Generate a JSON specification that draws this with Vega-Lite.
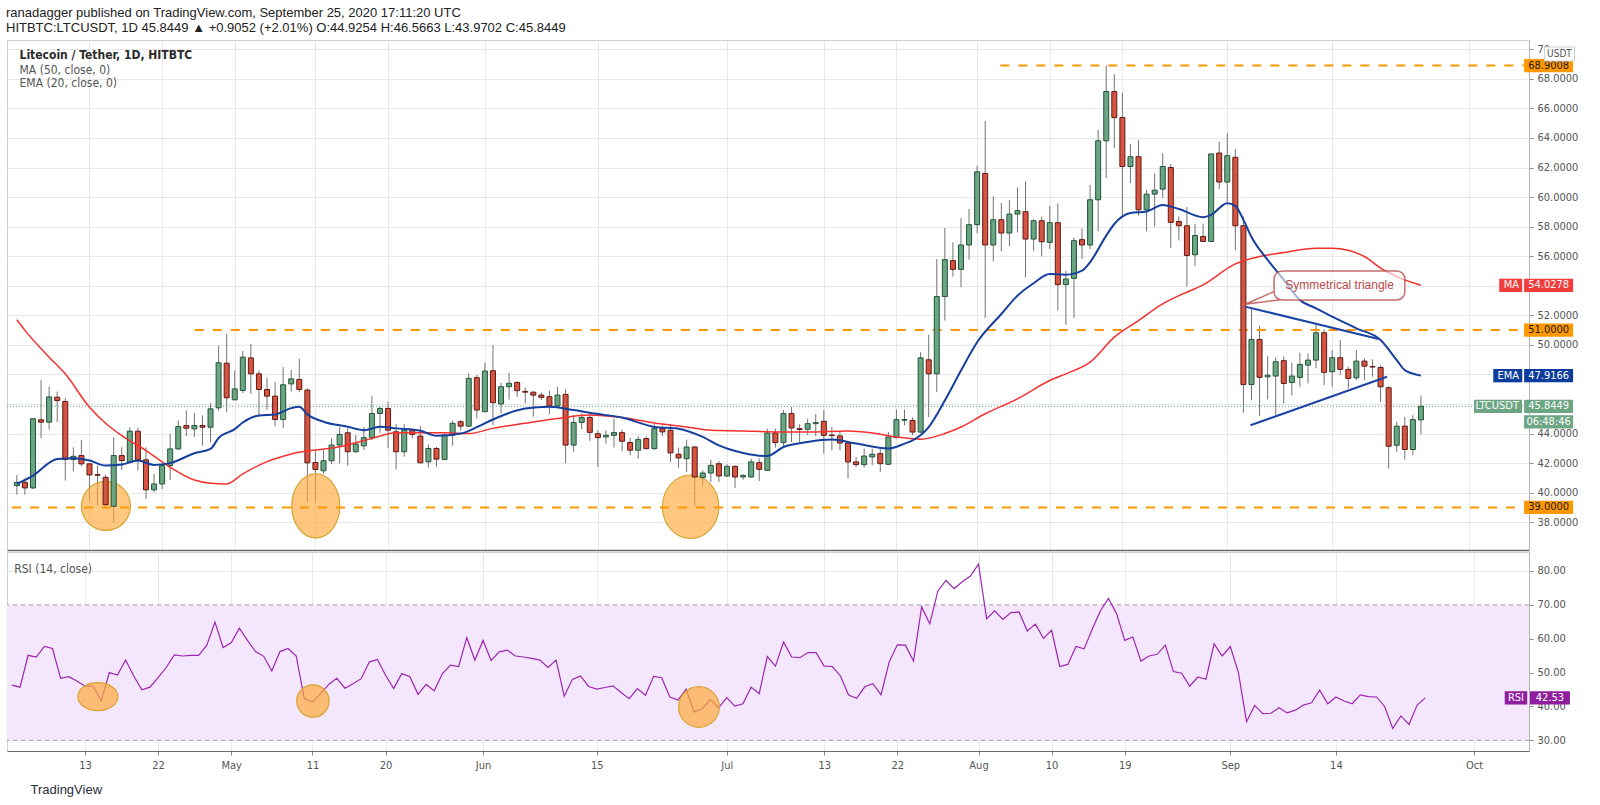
{
  "$schema": "https://vega.github.io/schema/vega-lite/v6.json",
  "background": "white",
  "padding": {"left": 6, "top": 6, "right": 0, "bottom": 0},
  "title": {
    "text": "ranadagger published on TradingView.com, September 25, 2020 17:11:20 UTC",
    "subtitle": "HITBTC:LTCUSDT, 1D  45.8449 ▲ +0.9052 (+2.01%) O:44.9254 H:46.5663 L:43.9702 C:45.8449",
    "anchor": "start",
    "frame": "bounds",
    "font": "Liberation Sans",
    "fontSize": 13,
    "fontWeight": "normal",
    "color": "#222222",
    "subtitleFont": "Liberation Sans",
    "subtitleFontSize": 13,
    "subtitleColor": "#222222",
    "subtitlePadding": 2,
    "offset": 5
  },
  "spacing": 0,
  "datasets": {
    "candles": [
      {"date":"2020-04-04","open":40.48,"high":41.2,"low":39.87,"close":40.7},
      {"date":"2020-04-05","open":40.7,"high":40.93,"low":39.87,"close":40.32},
      {"date":"2020-04-06","open":40.32,"high":45.05,"low":40.25,"close":45.0},
      {"date":"2020-04-07","open":44.93,"high":47.63,"low":43.68,"close":44.77},
      {"date":"2020-04-08","open":44.77,"high":47.18,"low":44.27,"close":46.48},
      {"date":"2020-04-09","open":46.46,"high":46.84,"low":44.77,"close":46.23},
      {"date":"2020-04-10","open":46.17,"high":46.39,"low":40.82,"close":42.24},
      {"date":"2020-04-11","open":42.24,"high":43.07,"low":41.43,"close":42.46},
      {"date":"2020-04-12","open":42.51,"high":43.57,"low":41.79,"close":41.95},
      {"date":"2020-04-13","open":41.95,"high":41.98,"low":39.46,"close":41.2},
      {"date":"2020-04-14","open":41.22,"high":41.83,"low":39.12,"close":41.18},
      {"date":"2020-04-15","open":41.04,"high":41.22,"low":39.01,"close":39.19},
      {"date":"2020-04-16","open":39.08,"high":43.75,"low":37.95,"close":42.51},
      {"date":"2020-04-17","open":42.51,"high":43.07,"low":41.54,"close":42.17},
      {"date":"2020-04-18","open":42.06,"high":44.43,"low":42.0,"close":44.16},
      {"date":"2020-04-19","open":44.16,"high":44.4,"low":41.49,"close":42.22},
      {"date":"2020-04-20","open":42.22,"high":43.07,"low":39.58,"close":40.19},
      {"date":"2020-04-21","open":40.19,"high":41.27,"low":40.03,"close":40.59},
      {"date":"2020-04-22","open":40.59,"high":41.95,"low":40.25,"close":41.83},
      {"date":"2020-04-23","open":41.83,"high":43.98,"low":40.86,"close":42.96},
      {"date":"2020-04-24","open":42.96,"high":44.88,"low":42.9,"close":44.47},
      {"date":"2020-04-25","open":44.54,"high":45.56,"low":43.82,"close":44.36},
      {"date":"2020-04-26","open":44.32,"high":45.38,"low":43.75,"close":44.54},
      {"date":"2020-04-27","open":44.54,"high":45.22,"low":43.19,"close":44.43},
      {"date":"2020-04-28","open":44.43,"high":46.05,"low":43.41,"close":45.67},
      {"date":"2020-04-29","open":45.74,"high":49.96,"low":45.56,"close":48.79},
      {"date":"2020-04-30","open":48.76,"high":50.75,"low":45.44,"close":46.42},
      {"date":"2020-05-01","open":46.28,"high":48.27,"low":46.28,"close":47.02},
      {"date":"2020-05-02","open":46.91,"high":49.58,"low":46.73,"close":49.17},
      {"date":"2020-05-03","open":49.12,"high":50.07,"low":46.69,"close":48.04},
      {"date":"2020-05-04","open":48.04,"high":48.27,"low":45.15,"close":46.98},
      {"date":"2020-05-05","open":46.98,"high":47.77,"low":45.6,"close":46.53},
      {"date":"2020-05-06","open":46.53,"high":47.48,"low":44.5,"close":44.95},
      {"date":"2020-05-07","open":44.95,"high":48.49,"low":44.36,"close":47.3},
      {"date":"2020-05-08","open":47.36,"high":48.3,"low":46.84,"close":47.7},
      {"date":"2020-05-09","open":47.66,"high":49.06,"low":46.8,"close":46.98},
      {"date":"2020-05-10","open":46.94,"high":47.06,"low":39.38,"close":42.02},
      {"date":"2020-05-11","open":42.04,"high":42.84,"low":39.31,"close":41.57},
      {"date":"2020-05-12","open":41.48,"high":42.88,"low":41.3,"close":42.16},
      {"date":"2020-05-13","open":42.16,"high":43.67,"low":41.93,"close":43.22},
      {"date":"2020-05-14","open":43.22,"high":44.42,"low":41.98,"close":43.94},
      {"date":"2020-05-15","open":44.05,"high":44.35,"low":41.82,"close":42.77},
      {"date":"2020-05-16","open":42.77,"high":43.9,"low":42.7,"close":43.29},
      {"date":"2020-05-17","open":43.17,"high":44.46,"low":42.88,"close":43.72},
      {"date":"2020-05-18","open":43.72,"high":46.56,"low":43.56,"close":45.36},
      {"date":"2020-05-19","open":45.36,"high":45.81,"low":44.05,"close":45.7},
      {"date":"2020-05-20","open":45.7,"high":46.15,"low":43.0,"close":44.23},
      {"date":"2020-05-21","open":44.12,"high":44.64,"low":41.57,"close":42.77},
      {"date":"2020-05-22","open":42.77,"high":44.64,"low":42.43,"close":44.23},
      {"date":"2020-05-23","open":44.23,"high":44.35,"low":43.67,"close":43.94},
      {"date":"2020-05-24","open":43.83,"high":44.5,"low":42.0,"close":42.02},
      {"date":"2020-05-25","open":42.09,"high":43.26,"low":41.71,"close":42.99},
      {"date":"2020-05-26","open":42.99,"high":43.1,"low":41.75,"close":42.27},
      {"date":"2020-05-27","open":42.25,"high":44.0,"low":42.2,"close":43.9},
      {"date":"2020-05-28","open":43.9,"high":44.87,"low":43.17,"close":44.69},
      {"date":"2020-05-29","open":44.8,"high":44.91,"low":44.19,"close":44.5},
      {"date":"2020-05-30","open":44.5,"high":48.07,"low":44.46,"close":47.73},
      {"date":"2020-05-31","open":47.78,"high":47.96,"low":45.02,"close":45.59},
      {"date":"2020-06-01","open":45.48,"high":48.79,"low":45.48,"close":48.23},
      {"date":"2020-06-02","open":48.25,"high":49.99,"low":44.57,"close":46.09},
      {"date":"2020-06-03","open":46.0,"high":47.44,"low":45.36,"close":47.17},
      {"date":"2020-06-04","open":47.17,"high":48.12,"low":46.31,"close":47.4},
      {"date":"2020-06-05","open":47.46,"high":47.53,"low":46.49,"close":46.9},
      {"date":"2020-06-06","open":46.85,"high":47.12,"low":46.04,"close":46.8},
      {"date":"2020-06-07","open":46.8,"high":46.85,"low":45.14,"close":46.6},
      {"date":"2020-06-08","open":46.6,"high":46.76,"low":46.27,"close":46.45},
      {"date":"2020-06-09","open":46.49,"high":46.9,"low":45.32,"close":45.86},
      {"date":"2020-06-10","open":45.86,"high":47.17,"low":45.8,"close":46.6},
      {"date":"2020-06-11","open":46.65,"high":46.99,"low":41.98,"close":43.22},
      {"date":"2020-06-12","open":43.22,"high":45.25,"low":42.77,"close":44.75},
      {"date":"2020-06-13","open":44.75,"high":45.36,"low":44.3,"close":45.09},
      {"date":"2020-06-14","open":45.09,"high":45.36,"low":43.51,"close":44.08},
      {"date":"2020-06-15","open":43.99,"high":44.22,"low":41.74,"close":43.72},
      {"date":"2020-06-16","open":43.77,"high":44.22,"low":43.32,"close":43.88},
      {"date":"2020-06-17","open":43.88,"high":45.01,"low":43.05,"close":44.06},
      {"date":"2020-06-18","open":44.06,"high":44.27,"low":42.82,"close":43.48},
      {"date":"2020-06-19","open":43.39,"high":43.72,"low":42.53,"close":42.87},
      {"date":"2020-06-20","open":42.87,"high":43.81,"low":42.3,"close":43.59},
      {"date":"2020-06-21","open":43.66,"high":43.81,"low":42.93,"close":42.98},
      {"date":"2020-06-22","open":42.98,"high":44.63,"low":42.9,"close":44.33},
      {"date":"2020-06-23","open":44.33,"high":44.56,"low":43.81,"close":44.11},
      {"date":"2020-06-24","open":44.22,"high":44.63,"low":42.08,"close":42.69},
      {"date":"2020-06-25","open":42.6,"high":43.05,"low":41.69,"close":42.35},
      {"date":"2020-06-26","open":42.3,"high":43.59,"low":41.4,"close":43.09},
      {"date":"2020-06-27","open":43.09,"high":43.14,"low":39.14,"close":41.06},
      {"date":"2020-06-28","open":41.02,"high":41.51,"low":40.43,"close":41.33},
      {"date":"2020-06-29","open":41.33,"high":42.23,"low":40.72,"close":41.85},
      {"date":"2020-06-30","open":41.96,"high":42.14,"low":40.72,"close":41.13},
      {"date":"2020-07-01","open":41.13,"high":41.92,"low":41.06,"close":41.78},
      {"date":"2020-07-02","open":41.78,"high":41.85,"low":40.32,"close":41.06},
      {"date":"2020-07-03","open":41.06,"high":41.24,"low":40.88,"close":41.17},
      {"date":"2020-07-04","open":41.06,"high":42.3,"low":41.0,"close":42.08},
      {"date":"2020-07-05","open":42.03,"high":42.3,"low":40.79,"close":41.58},
      {"date":"2020-07-06","open":41.51,"high":44.33,"low":41.5,"close":44.04},
      {"date":"2020-07-07","open":44.04,"high":44.33,"low":43.05,"close":43.39},
      {"date":"2020-07-08","open":43.39,"high":45.58,"low":43.09,"close":45.35},
      {"date":"2020-07-09","open":45.35,"high":45.8,"low":43.43,"close":44.38},
      {"date":"2020-07-10","open":44.33,"high":44.63,"low":43.43,"close":44.27},
      {"date":"2020-07-11","open":44.29,"high":45.01,"low":43.88,"close":44.67},
      {"date":"2020-07-12","open":44.67,"high":45.31,"low":43.81,"close":44.74},
      {"date":"2020-07-13","open":44.83,"high":45.58,"low":42.64,"close":43.88},
      {"date":"2020-07-14","open":43.9,"high":44.45,"low":42.87,"close":43.86},
      {"date":"2020-07-15","open":43.84,"high":44.1,"low":42.87,"close":43.36},
      {"date":"2020-07-16","open":43.36,"high":43.36,"low":40.95,"close":42.08},
      {"date":"2020-07-17","open":42.08,"high":42.42,"low":41.74,"close":41.9},
      {"date":"2020-07-18","open":41.9,"high":42.98,"low":41.69,"close":42.48},
      {"date":"2020-07-19","open":42.42,"high":42.98,"low":41.85,"close":42.6},
      {"date":"2020-07-20","open":42.64,"high":42.98,"low":41.4,"close":41.96},
      {"date":"2020-07-21","open":41.92,"high":44.11,"low":41.9,"close":43.77},
      {"date":"2020-07-22","open":43.72,"high":45.62,"low":43.7,"close":44.94},
      {"date":"2020-07-23","open":44.9,"high":45.62,"low":44.56,"close":44.95},
      {"date":"2020-07-24","open":44.89,"high":45.1,"low":43.87,"close":44.1},
      {"date":"2020-07-25","open":44.1,"high":49.5,"low":44.05,"close":49.12},
      {"date":"2020-07-26","open":48.99,"high":50.7,"low":45.11,"close":48.04},
      {"date":"2020-07-27","open":48.04,"high":55.81,"low":46.8,"close":53.27},
      {"date":"2020-07-28","open":53.27,"high":57.91,"low":51.64,"close":55.77},
      {"date":"2020-07-29","open":55.7,"high":56.94,"low":54.62,"close":55.11},
      {"date":"2020-07-30","open":55.11,"high":58.58,"low":53.9,"close":56.76},
      {"date":"2020-07-31","open":56.76,"high":59.19,"low":55.77,"close":58.13},
      {"date":"2020-08-01","open":58.13,"high":62.12,"low":57.55,"close":61.71},
      {"date":"2020-08-02","open":61.6,"high":65.16,"low":51.82,"close":56.76},
      {"date":"2020-08-03","open":56.76,"high":60.05,"low":55.65,"close":58.47},
      {"date":"2020-08-04","open":58.47,"high":59.6,"low":56.33,"close":57.57},
      {"date":"2020-08-05","open":57.57,"high":59.8,"low":56.67,"close":58.85},
      {"date":"2020-08-06","open":58.85,"high":60.65,"low":57.61,"close":59.08},
      {"date":"2020-08-07","open":59.01,"high":61.06,"low":54.57,"close":57.16},
      {"date":"2020-08-08","open":57.16,"high":58.51,"low":56.37,"close":58.4},
      {"date":"2020-08-09","open":58.4,"high":58.67,"low":55.99,"close":56.98},
      {"date":"2020-08-10","open":56.94,"high":59.41,"low":56.49,"close":58.27},
      {"date":"2020-08-11","open":58.27,"high":59.57,"low":52.32,"close":54.08},
      {"date":"2020-08-12","open":54.08,"high":55.02,"low":51.35,"close":54.46},
      {"date":"2020-08-13","open":54.5,"high":57.27,"low":51.82,"close":57.05},
      {"date":"2020-08-14","open":57.12,"high":57.88,"low":55.81,"close":56.76},
      {"date":"2020-08-15","open":56.76,"high":60.83,"low":56.49,"close":59.82},
      {"date":"2020-08-16","open":59.82,"high":64.55,"low":57.68,"close":63.81},
      {"date":"2020-08-17","open":63.81,"high":68.9,"low":61.28,"close":67.14},
      {"date":"2020-08-18","open":67.14,"high":68.31,"low":63.31,"close":65.38},
      {"date":"2020-08-19","open":65.38,"high":67.07,"low":58.74,"close":62.07},
      {"date":"2020-08-20","open":62.07,"high":63.58,"low":60.95,"close":62.73},
      {"date":"2020-08-21","open":62.73,"high":63.85,"low":58.74,"close":59.14},
      {"date":"2020-08-22","open":59.14,"high":60.5,"low":57.68,"close":60.2},
      {"date":"2020-08-23","open":60.2,"high":61.6,"low":58.0,"close":60.47},
      {"date":"2020-08-24","open":60.54,"high":62.97,"low":59.93,"close":62.07},
      {"date":"2020-08-25","open":62.0,"high":62.23,"low":56.55,"close":58.29},
      {"date":"2020-08-26","open":58.35,"high":58.69,"low":57.06,"close":58.06},
      {"date":"2020-08-27","open":58.06,"high":59.32,"low":53.94,"close":56.05},
      {"date":"2020-08-28","open":56.1,"high":58.19,"low":55.34,"close":57.4},
      {"date":"2020-08-29","open":57.33,"high":58.19,"low":56.99,"close":57.0},
      {"date":"2020-08-30","open":57.0,"high":62.95,"low":56.99,"close":62.92},
      {"date":"2020-08-31","open":62.98,"high":63.73,"low":60.54,"close":61.02},
      {"date":"2020-09-01","open":61.02,"high":64.34,"low":59.64,"close":62.8},
      {"date":"2020-09-02","open":62.69,"high":63.25,"low":56.43,"close":58.06},
      {"date":"2020-09-03","open":58.06,"high":58.69,"low":45.4,"close":47.32},
      {"date":"2020-09-04","open":47.32,"high":52.47,"low":46.26,"close":50.37},
      {"date":"2020-09-05","open":50.37,"high":51.3,"low":45.18,"close":47.8},
      {"date":"2020-09-06","open":47.84,"high":49.24,"low":46.3,"close":47.95},
      {"date":"2020-09-07","open":47.89,"high":49.15,"low":45.24,"close":48.86},
      {"date":"2020-09-08","open":48.93,"high":49.2,"low":46.03,"close":47.39},
      {"date":"2020-09-09","open":47.46,"high":48.79,"low":46.6,"close":47.89},
      {"date":"2020-09-10","open":47.8,"high":49.47,"low":47.16,"close":48.68},
      {"date":"2020-09-11","open":48.63,"high":49.42,"low":47.39,"close":48.97},
      {"date":"2020-09-12","open":48.97,"high":51.34,"low":48.41,"close":50.82},
      {"date":"2020-09-13","open":50.82,"high":51.05,"low":47.28,"close":48.14},
      {"date":"2020-09-14","open":48.18,"high":49.65,"low":47.16,"close":49.13},
      {"date":"2020-09-15","open":49.13,"high":50.33,"low":47.95,"close":48.34},
      {"date":"2020-09-16","open":48.34,"high":48.52,"low":47.05,"close":47.73},
      {"date":"2020-09-17","open":47.77,"high":49.65,"low":47.62,"close":48.9},
      {"date":"2020-09-18","open":48.9,"high":49.08,"low":47.62,"close":48.56},
      {"date":"2020-09-19","open":48.54,"high":49.02,"low":47.84,"close":48.5},
      {"date":"2020-09-20","open":48.47,"high":48.63,"low":46.15,"close":47.16},
      {"date":"2020-09-21","open":47.1,"high":47.2,"low":41.63,"close":43.14},
      {"date":"2020-09-22","open":43.21,"high":44.8,"low":42.76,"close":44.5},
      {"date":"2020-09-23","open":44.5,"high":45.13,"low":42.24,"close":42.92},
      {"date":"2020-09-24","open":42.92,"high":45.24,"low":42.53,"close":44.94},
      {"date":"2020-09-25","open":44.9254,"high":46.5663,"low":43.9702,"close":45.8449}
    ],
    "ma": [
      {"date":"2020-04-04","value":51.7},{"date":"2020-04-05","value":50.98},{"date":"2020-04-08","value":49.17},
      {"date":"2020-04-10","value":48.04},{"date":"2020-04-13","value":45.78},{"date":"2020-04-15","value":44.7},
      {"date":"2020-04-17","value":43.86},{"date":"2020-04-20","value":42.85},{"date":"2020-04-23","value":41.72},
      {"date":"2020-04-26","value":40.86},{"date":"2020-04-28","value":40.64},{"date":"2020-04-30","value":40.59},
      {"date":"2020-05-02","value":41.27},{"date":"2020-05-05","value":42.1},{"date":"2020-05-08","value":42.62},
      {"date":"2020-05-14","value":43.11},{"date":"2020-05-18","value":43.67},{"date":"2020-05-21","value":44.05},
      {"date":"2020-05-27","value":44.05},{"date":"2020-05-30","value":44.0},{"date":"2020-06-02","value":44.35},
      {"date":"2020-06-06","value":44.69},{"date":"2020-06-10","value":45.02},{"date":"2020-06-14","value":45.25},
      {"date":"2020-06-18","value":45.08},{"date":"2020-06-22","value":44.72},{"date":"2020-06-26","value":44.45},
      {"date":"2020-06-29","value":44.22},{"date":"2020-07-03","value":44.18},{"date":"2020-07-07","value":44.11},
      {"date":"2020-07-11","value":44.11},{"date":"2020-07-16","value":44.18},{"date":"2020-07-19","value":44.04},
      {"date":"2020-07-22","value":43.77},{"date":"2020-07-25","value":43.62},{"date":"2020-07-28","value":44.0},
      {"date":"2020-07-30","value":44.44},{"date":"2020-08-02","value":45.34},{"date":"2020-08-06","value":46.35},
      {"date":"2020-08-10","value":47.59},{"date":"2020-08-12","value":48.04},{"date":"2020-08-15","value":48.83},
      {"date":"2020-08-18","value":50.52},{"date":"2020-08-21","value":51.64},{"date":"2020-08-24","value":52.77},
      {"date":"2020-08-26","value":53.33},{"date":"2020-08-29","value":54.06},{"date":"2020-09-02","value":55.48},
      {"date":"2020-09-05","value":55.98},{"date":"2020-09-08","value":56.25},{"date":"2020-09-12","value":56.54},
      {"date":"2020-09-14","value":56.54},{"date":"2020-09-18","value":55.98},{"date":"2020-09-20","value":55.19},
      {"date":"2020-09-22","value":54.62},{"date":"2020-09-25","value":54.03}
    ],
    "ema": [
      {"date":"2020-04-04","value":40.6},{"date":"2020-04-06","value":41.16},{"date":"2020-04-09","value":42.28},
      {"date":"2020-04-11","value":42.33},{"date":"2020-04-13","value":42.17},{"date":"2020-04-15","value":41.83},
      {"date":"2020-04-17","value":41.9},{"date":"2020-04-19","value":42.17},{"date":"2020-04-21","value":41.88},
      {"date":"2020-04-23","value":42.0},{"date":"2020-04-26","value":42.67},{"date":"2020-04-28","value":42.96},
      {"date":"2020-04-29","value":43.7},{"date":"2020-05-01","value":44.3},{"date":"2020-05-02","value":44.75},
      {"date":"2020-05-04","value":45.22},{"date":"2020-05-06","value":45.29},{"date":"2020-05-08","value":45.72},
      {"date":"2020-05-09","value":45.81},{"date":"2020-05-10","value":45.3},{"date":"2020-05-12","value":44.8},
      {"date":"2020-05-15","value":44.46},{"date":"2020-05-17","value":44.23},{"date":"2020-05-19","value":44.46},
      {"date":"2020-05-21","value":44.35},{"date":"2020-05-24","value":44.19},{"date":"2020-05-26","value":43.85},
      {"date":"2020-05-29","value":44.0},{"date":"2020-05-31","value":44.43},{"date":"2020-06-02","value":44.95},
      {"date":"2020-06-06","value":45.7},{"date":"2020-06-09","value":45.81},{"date":"2020-06-12","value":45.59},
      {"date":"2020-06-14","value":45.4},{"date":"2020-06-18","value":45.08},{"date":"2020-06-22","value":44.45},
      {"date":"2020-06-25","value":44.33},{"date":"2020-06-28","value":43.77},{"date":"2020-06-30","value":43.2},
      {"date":"2020-07-03","value":42.69},{"date":"2020-07-06","value":42.48},{"date":"2020-07-08","value":43.09},
      {"date":"2020-07-11","value":43.43},{"date":"2020-07-14","value":43.59},{"date":"2020-07-17","value":43.32},
      {"date":"2020-07-21","value":42.98},{"date":"2020-07-23","value":43.32},{"date":"2020-07-24","value":43.54},
      {"date":"2020-07-26","value":44.44},{"date":"2020-07-28","value":46.24},{"date":"2020-07-30","value":48.27},
      {"date":"2020-08-01","value":50.18},{"date":"2020-08-04","value":52.09},{"date":"2020-08-06","value":53.33},
      {"date":"2020-08-08","value":54.17},{"date":"2020-08-10","value":54.8},{"date":"2020-08-12","value":54.75},
      {"date":"2020-08-14","value":55.02},{"date":"2020-08-15","value":55.6},{"date":"2020-08-17","value":57.39},
      {"date":"2020-08-18","value":58.18},{"date":"2020-08-20","value":58.92},{"date":"2020-08-22","value":59.03},
      {"date":"2020-08-24","value":59.46},{"date":"2020-08-26","value":59.19},{"date":"2020-08-29","value":58.64},
      {"date":"2020-08-30","value":58.8},{"date":"2020-09-01","value":59.59},{"date":"2020-09-02","value":59.41},
      {"date":"2020-09-03","value":58.46},{"date":"2020-09-04","value":57.3},{"date":"2020-09-06","value":55.75},
      {"date":"2020-09-08","value":54.4},{"date":"2020-09-10","value":53.04},{"date":"2020-09-12","value":52.47},
      {"date":"2020-09-14","value":51.91},{"date":"2020-09-17","value":51.12},{"date":"2020-09-20","value":50.33},
      {"date":"2020-09-22","value":48.97},{"date":"2020-09-23","value":48.29},{"date":"2020-09-25","value":47.92}
    ],
    "rsi": [
      {"date":"2020-04-04","rsi":46.3},{"date":"2020-04-05","rsi":45.7},{"date":"2020-04-06","rsi":55.1},
      {"date":"2020-04-07","rsi":54.6},{"date":"2020-04-08","rsi":57.7},{"date":"2020-04-09","rsi":57.1},
      {"date":"2020-04-10","rsi":48.3},{"date":"2020-04-11","rsi":48.8},{"date":"2020-04-12","rsi":47.5},
      {"date":"2020-04-13","rsi":46.0},{"date":"2020-04-14","rsi":46.0},{"date":"2020-04-15","rsi":41.6},
      {"date":"2020-04-16","rsi":50.0},{"date":"2020-04-17","rsi":49.3},{"date":"2020-04-18","rsi":53.7},
      {"date":"2020-04-19","rsi":49.0},{"date":"2020-04-20","rsi":44.9},{"date":"2020-04-21","rsi":45.7},
      {"date":"2020-04-22","rsi":48.5},{"date":"2020-04-23","rsi":51.5},{"date":"2020-04-24","rsi":55.2},
      {"date":"2020-04-25","rsi":54.9},{"date":"2020-04-26","rsi":55.1},{"date":"2020-04-27","rsi":55.1},
      {"date":"2020-04-28","rsi":58.1},{"date":"2020-04-29","rsi":64.9},{"date":"2020-04-30","rsi":57.4},
      {"date":"2020-05-01","rsi":58.8},{"date":"2020-05-02","rsi":63.1},{"date":"2020-05-03","rsi":59.5},
      {"date":"2020-05-04","rsi":56.2},{"date":"2020-05-05","rsi":54.8},{"date":"2020-05-06","rsi":50.5},
      {"date":"2020-05-07","rsi":56.2},{"date":"2020-05-08","rsi":57.1},{"date":"2020-05-09","rsi":54.9},
      {"date":"2020-05-10","rsi":42.3},{"date":"2020-05-11","rsi":41.3},{"date":"2020-05-12","rsi":43.8},
      {"date":"2020-05-13","rsi":46.5},{"date":"2020-05-14","rsi":48.3},{"date":"2020-05-15","rsi":45.4},
      {"date":"2020-05-16","rsi":46.7},{"date":"2020-05-17","rsi":48.2},{"date":"2020-05-18","rsi":53.1},
      {"date":"2020-05-19","rsi":53.9},{"date":"2020-05-20","rsi":49.2},{"date":"2020-05-21","rsi":45.3},
      {"date":"2020-05-22","rsi":49.7},{"date":"2020-05-23","rsi":48.8},{"date":"2020-05-24","rsi":43.6},
      {"date":"2020-05-25","rsi":46.5},{"date":"2020-05-26","rsi":44.6},{"date":"2020-05-27","rsi":49.7},
      {"date":"2020-05-28","rsi":52.2},{"date":"2020-05-29","rsi":51.8},{"date":"2020-05-30","rsi":60.3},
      {"date":"2020-05-31","rsi":53.7},{"date":"2020-06-01","rsi":59.5},{"date":"2020-06-02","rsi":53.6},
      {"date":"2020-06-03","rsi":56.1},{"date":"2020-06-04","rsi":56.6},{"date":"2020-06-05","rsi":54.9},
      {"date":"2020-06-06","rsi":54.6},{"date":"2020-06-07","rsi":54.2},{"date":"2020-06-08","rsi":53.7},
      {"date":"2020-06-09","rsi":51.5},{"date":"2020-06-10","rsi":53.7},{"date":"2020-06-11","rsi":43.0},
      {"date":"2020-06-12","rsi":48.0},{"date":"2020-06-13","rsi":49.0},{"date":"2020-06-14","rsi":45.9},
      {"date":"2020-06-15","rsi":45.1},{"date":"2020-06-16","rsi":45.6},{"date":"2020-06-17","rsi":46.1},
      {"date":"2020-06-18","rsi":44.1},{"date":"2020-06-19","rsi":42.3},{"date":"2020-06-20","rsi":45.3},
      {"date":"2020-06-21","rsi":43.3},{"date":"2020-06-22","rsi":48.9},{"date":"2020-06-23","rsi":48.5},
      {"date":"2020-06-24","rsi":42.8},{"date":"2020-06-25","rsi":41.9},{"date":"2020-06-26","rsi":45.1},
      {"date":"2020-06-27","rsi":38.4},{"date":"2020-06-28","rsi":39.4},{"date":"2020-06-29","rsi":42.0},
      {"date":"2020-06-30","rsi":39.6},{"date":"2020-07-01","rsi":42.6},{"date":"2020-07-02","rsi":40.1},
      {"date":"2020-07-03","rsi":40.8},{"date":"2020-07-04","rsi":45.7},{"date":"2020-07-05","rsi":43.8},
      {"date":"2020-07-06","rsi":54.7},{"date":"2020-07-07","rsi":51.9},{"date":"2020-07-08","rsi":59.0},
      {"date":"2020-07-09","rsi":54.6},{"date":"2020-07-10","rsi":54.4},{"date":"2020-07-11","rsi":55.9},
      {"date":"2020-07-12","rsi":55.9},{"date":"2020-07-13","rsi":51.9},{"date":"2020-07-14","rsi":51.8},
      {"date":"2020-07-15","rsi":49.0},{"date":"2020-07-16","rsi":43.4},{"date":"2020-07-17","rsi":42.4},
      {"date":"2020-07-18","rsi":45.8},{"date":"2020-07-19","rsi":46.7},{"date":"2020-07-20","rsi":43.4},
      {"date":"2020-07-21","rsi":53.1},{"date":"2020-07-22","rsi":58.2},{"date":"2020-07-23","rsi":58.1},
      {"date":"2020-07-24","rsi":53.4},{"date":"2020-07-25","rsi":69.4},{"date":"2020-07-26","rsi":64.4},
      {"date":"2020-07-27","rsi":74.1},{"date":"2020-07-28","rsi":77.2},{"date":"2020-07-29","rsi":74.8},
      {"date":"2020-07-30","rsi":76.8},{"date":"2020-07-31","rsi":78.5},{"date":"2020-08-01","rsi":82.0},
      {"date":"2020-08-02","rsi":65.9},{"date":"2020-08-03","rsi":68.2},{"date":"2020-08-04","rsi":65.7},
      {"date":"2020-08-05","rsi":67.7},{"date":"2020-08-06","rsi":67.9},{"date":"2020-08-07","rsi":62.3},
      {"date":"2020-08-08","rsi":64.3},{"date":"2020-08-09","rsi":60.1},{"date":"2020-08-10","rsi":62.5},
      {"date":"2020-08-11","rsi":51.8},{"date":"2020-08-12","rsi":52.4},{"date":"2020-08-13","rsi":57.7},
      {"date":"2020-08-14","rsi":57.0},{"date":"2020-08-15","rsi":62.8},{"date":"2020-08-16","rsi":68.2},
      {"date":"2020-08-17","rsi":71.9},{"date":"2020-08-18","rsi":67.4},{"date":"2020-08-19","rsi":59.5},
      {"date":"2020-08-20","rsi":60.5},{"date":"2020-08-21","rsi":53.4},{"date":"2020-08-22","rsi":54.9},
      {"date":"2020-08-23","rsi":55.4},{"date":"2020-08-24","rsi":58.1},{"date":"2020-08-25","rsi":50.3},
      {"date":"2020-08-26","rsi":49.8},{"date":"2020-08-27","rsi":46.0},{"date":"2020-08-28","rsi":48.7},
      {"date":"2020-08-29","rsi":48.0},{"date":"2020-08-30","rsi":58.5},{"date":"2020-08-31","rsi":54.9},
      {"date":"2020-09-01","rsi":57.7},{"date":"2020-09-02","rsi":50.0},{"date":"2020-09-03","rsi":35.5},
      {"date":"2020-09-04","rsi":40.3},{"date":"2020-09-05","rsi":37.9},{"date":"2020-09-06","rsi":38.0},
      {"date":"2020-09-07","rsi":39.6},{"date":"2020-09-08","rsi":38.1},{"date":"2020-09-09","rsi":38.9},
      {"date":"2020-09-10","rsi":40.4},{"date":"2020-09-11","rsi":41.1},{"date":"2020-09-12","rsi":44.8},
      {"date":"2020-09-13","rsi":40.8},{"date":"2020-09-14","rsi":42.8},{"date":"2020-09-15","rsi":41.6},
      {"date":"2020-09-16","rsi":40.8},{"date":"2020-09-17","rsi":43.4},{"date":"2020-09-18","rsi":42.9},
      {"date":"2020-09-19","rsi":42.8},{"date":"2020-09-20","rsi":40.0},{"date":"2020-09-21","rsi":33.5},
      {"date":"2020-09-22","rsi":37.2},{"date":"2020-09-23","rsi":34.7},{"date":"2020-09-24","rsi":40.4},
      {"date":"2020-09-25","rsi":42.53}
    ],
    "levels": [
      {"level": 68.9008, "from": "2020-08-03T21:00:00Z"},
      {"level": 51.0, "from": "2020-04-26T01:00:00Z"},
      {"level": 39.0, "from": "2020-04-03T09:33:00Z"}
    ],
    "triangle": [
      {"side": "upper", "date": "2020-09-03T05:00:00Z", "value": 52.59},
      {"side": "upper", "date": "2020-09-19T18:00:00Z", "value": 50.4},
      {"side": "lower", "date": "2020-09-03T21:00:00Z", "value": 44.56},
      {"side": "lower", "date": "2020-09-20T19:00:00Z", "value": 47.84}
    ],
    "calloutTail": [
      {"step": 1, "date": "2020-09-06T19:00:00Z", "value": 53.6},
      {"step": 2, "date": "2020-09-03T05:00:00Z", "value": 52.75},
      {"step": 3, "date": "2020-09-07T10:30:00Z", "value": 53.04}
    ],
    "highlights": [
      {"id": "p1", "date": "2020-04-15T01:00:00Z", "value": 39.1},
      {"id": "p2", "date": "2020-05-11T01:00:00Z", "value": 39.1},
      {"id": "p3", "date": "2020-06-26T12:00:00Z", "value": 39.05},
      {"id": "r1", "date": "2020-04-14T14:00:00Z", "value": 42.88},
      {"id": "r2", "date": "2020-05-11T01:30:00Z", "value": 41.6},
      {"id": "r3", "date": "2020-06-27T14:00:00Z", "value": 39.83}
    ],
    "priceTags": [
      {"kind": "level", "value": 68.9008, "text": "68.9008"},
      {"kind": "level", "value": 51.0, "text": "51.0000"},
      {"kind": "level", "value": 39.0, "text": "39.0000"},
      {"kind": "MA", "name": "MA", "value": 54.0278, "text": "54.0278"},
      {"kind": "EMA", "name": "EMA", "value": 47.9166, "text": "47.9166"},
      {"kind": "last", "name": "LTCUSDT", "value": 45.8449, "text": "45.8449", "countdown": "06:48:46"}
    ]
  },
  "vconcat": [
    {
      "width": 1522,
      "height": 510,
      "layer": [
        {
          "data": {"name": "candles"},
          "mark": {"type": "rule", "color": "#737375", "strokeWidth": 1},
          "encoding": {
            "x": {
              "field": "date", "type": "temporal", "title": null,
              "scale": {"type": "utc", "domain": [{"year":2020,"month":4,"date":3,"hours":9,"minutes":33,"utc":true},{"year":2020,"month":10,"date":7,"hours":18,"minutes":30,"utc":true}]},
              "axis": {
                "orient": "bottom", "labels": false, "ticks": false, "domain": true, "domainColor": "#6a6a6a", "domainWidth": 1.5, "grid": true, "tickCount": 100,
                "values": [
                  {"year":2020,"month":4,"date":13,"utc":true},{"year":2020,"month":4,"date":22,"utc":true},{"year":2020,"month":5,"date":1,"utc":true},
                  {"year":2020,"month":5,"date":11,"utc":true},{"year":2020,"month":5,"date":20,"utc":true},{"year":2020,"month":6,"date":1,"utc":true},
                  {"year":2020,"month":6,"date":15,"utc":true},{"year":2020,"month":7,"date":1,"utc":true},{"year":2020,"month":7,"date":13,"utc":true},
                  {"year":2020,"month":7,"date":22,"utc":true},{"year":2020,"month":8,"date":1,"utc":true},{"year":2020,"month":8,"date":10,"utc":true},
                  {"year":2020,"month":8,"date":19,"utc":true},{"year":2020,"month":9,"date":1,"utc":true},{"year":2020,"month":9,"date":14,"utc":true},
                  {"year":2020,"month":10,"date":1,"utc":true}
                ]
              }
            },
            "y": {
              "field": "low", "type": "quantitative", "title": null,
              "scale": {"domain": [36.12, 70.63], "nice": false, "zero": false},
              "axis": {
                "orient": "right", "grid": true, "domain": true, "labelOverlap": false, "tickCount": 100,
                "values": [38, 40, 42, 44, 46, 48, 50, 52, 54, 56, 58, 60, 62, 64, 66, 68, 70],
                "labelExpr": "datum.value == 70 ? '70' : (datum.value == 54 || datum.value == 48 || datum.value == 46) ? '' : format(datum.value, '.4f')"
              }
            },
            "y2": {"field": "high"}
          }
        },
        {
          "data": {"name": "highlights"},
          "transform": [{"filter": "datum.id == 'p1'"}],
          "mark": {"type": "point", "shape": "circle", "size": 2401, "filled": true, "opacity": 1, "fill": "#ffa93a", "fillOpacity": 0.65, "stroke": "#d6a532", "strokeWidth": 1.2},
          "encoding": {"x": {"field": "date", "type": "temporal", "title": null}, "y": {"field": "value", "type": "quantitative", "title": null}}
        },
        {
          "data": {"name": "highlights"},
          "transform": [{"filter": "datum.id == 'p2'"}],
          "mark": {"type": "point", "shape": "M0.75,0C0.75,0.5523,0.4142,1,0,1C-0.4142,1,-0.75,0.5523,-0.75,0C-0.75,-0.5523,-0.4142,-1,0,-1C0.4142,-1,0.75,-0.5523,0.75,0Z", "size": 4096, "filled": true, "opacity": 1, "fill": "#ffa93a", "fillOpacity": 0.65, "stroke": "#d6a532", "strokeWidth": 1.2},
          "encoding": {"x": {"field": "date", "type": "temporal", "title": null}, "y": {"field": "value", "type": "quantitative", "title": null}}
        },
        {
          "data": {"name": "highlights"},
          "transform": [{"filter": "datum.id == 'p3'"}],
          "mark": {"type": "point", "shape": "M0.89,0C0.89,0.5523,0.4915,1,0,1C-0.4915,1,-0.89,0.5523,-0.89,0C-0.89,-0.5523,-0.4915,-1,0,-1C0.4915,-1,0.89,-0.5523,0.89,0Z", "size": 4020, "filled": true, "opacity": 1, "fill": "#ffa93a", "fillOpacity": 0.65, "stroke": "#d6a532", "strokeWidth": 1.2},
          "encoding": {"x": {"field": "date", "type": "temporal", "title": null}, "y": {"field": "value", "type": "quantitative", "title": null}}
        },
        {
          "data": {"name": "levels"},
          "mark": {"type": "rule", "color": "#ff9800", "strokeWidth": 2, "strokeDash": [9, 9]},
          "encoding": {
            "x": {"field": "from", "type": "temporal", "title": null},
            "x2": {"datum": {"year":2020,"month":10,"date":7,"hours":18,"minutes":30,"utc":true}},
            "y": {"field": "level", "type": "quantitative", "title": null}
          }
        },
        {
          "data": {"values": [{}]},
          "mark": {"type": "rule", "color": "#5f9e78", "strokeWidth": 1, "strokeDash": [1, 2]},
          "encoding": {"y": {"datum": 45.8449, "type": "quantitative"}}
        },
        {
          "data": {"name": "candles"},
          "mark": {"type": "bar", "width": 5, "strokeWidth": 1},
          "encoding": {
            "x": {"field": "date", "type": "temporal", "title": null},
            "y": {"field": "open", "type": "quantitative", "title": null},
            "y2": {"field": "close"},
            "fill": {"condition": {"test": "datum.close >= datum.open", "value": "#6ba583"}, "value": "#d75442"},
            "stroke": {"condition": {"test": "datum.close >= datum.open", "value": "#225437"}, "value": "#5b1a13"}
          }
        },
        {
          "data": {"name": "ma"},
          "mark": {"type": "line", "color": "#f5302f", "strokeWidth": 1.5, "interpolate": "monotone"},
          "encoding": {"x": {"field": "date", "type": "temporal", "title": null}, "y": {"field": "value", "type": "quantitative", "title": null}}
        },
        {
          "data": {"name": "ema"},
          "mark": {"type": "line", "color": "#173f9e", "strokeWidth": 2, "interpolate": "monotone"},
          "encoding": {"x": {"field": "date", "type": "temporal", "title": null}, "y": {"field": "value", "type": "quantitative", "title": null}}
        },
        {
          "data": {"name": "triangle"},
          "mark": {"type": "line", "color": "#1c44a6", "strokeWidth": 2},
          "encoding": {
            "x": {"field": "date", "type": "temporal", "title": null},
            "y": {"field": "value", "type": "quantitative", "title": null},
            "detail": {"field": "side"}
          }
        },
        {
          "data": {"name": "calloutTail"},
          "mark": {"type": "line", "color": "#b85450", "strokeWidth": 1.5, "strokeOpacity": 0.85},
          "encoding": {
            "x": {"field": "date", "type": "temporal", "title": null},
            "y": {"field": "value", "type": "quantitative", "title": null},
            "order": {"field": "step"}
          }
        },
        {
          "data": {"values": [{"label": "Symmetrical triangle"}]},
          "mark": {"type": "rect", "cornerRadius": 8, "fill": "white", "fillOpacity": 0.6, "stroke": "#b85450", "strokeWidth": 1.5, "strokeOpacity": 0.85},
          "encoding": {
            "x": {"datum": {"year":2020,"month":9,"date":6,"hours":19,"minutes":12,"utc":true}, "type": "temporal"},
            "x2": {"datum": {"year":2020,"month":9,"date":23,"hours":0,"utc":true}},
            "y": {"datum": 55.0, "type": "quantitative"},
            "y2": {"datum": 53.04}
          }
        },
        {
          "data": {"values": [{"label": "Symmetrical triangle"}]},
          "mark": {"type": "text", "color": "#b84a48", "fontSize": 12, "font": "Liberation Sans", "align": "center", "baseline": "middle"},
          "encoding": {
            "x": {"datum": {"year":2020,"month":9,"date":14,"hours":22,"utc":true}, "type": "temporal"},
            "y": {"datum": 54.02, "type": "quantitative"},
            "text": {"field": "label"}
          }
        },
        {
          "data": {"values": [{"label": "Litecoin / Tether, 1D, HITBTC"}]},
          "mark": {"type": "text", "align": "left", "baseline": "middle", "fontSize": 12, "fontWeight": "bold", "color": "#2b2b2b"},
          "encoding": {
            "x": {"datum": {"year":2020,"month":4,"date":4,"hours":8,"utc":true}, "type": "temporal"},
            "y": {"datum": 69.6, "type": "quantitative"},
            "text": {"field": "label"}
          }
        },
        {
          "data": {"values": [{"label": "MA (50, close, 0)"}]},
          "mark": {"type": "text", "align": "left", "baseline": "middle", "fontSize": 12, "color": "#555555"},
          "encoding": {
            "x": {"datum": {"year":2020,"month":4,"date":4,"hours":8,"utc":true}, "type": "temporal"},
            "y": {"datum": 68.58, "type": "quantitative"},
            "text": {"field": "label"}
          }
        },
        {
          "data": {"values": [{"label": "EMA (20, close, 0)"}]},
          "mark": {"type": "text", "align": "left", "baseline": "middle", "fontSize": 12, "color": "#555555"},
          "encoding": {
            "x": {"datum": {"year":2020,"month":4,"date":4,"hours":8,"utc":true}, "type": "temporal"},
            "y": {"datum": 67.72, "type": "quantitative"},
            "text": {"field": "label"}
          }
        },
        {
          "data": {"name": "priceTags"},
          "mark": {"type": "point", "shape": "M-1,-0.27L1,-0.27L1,0.27L-1,0.27Z", "size": 2401, "filled": true, "opacity": 1, "strokeWidth": 0},
          "encoding": {
            "x": {"datum": {"year":2020,"month":10,"date":10,"hours":19,"minutes":40,"utc":true}, "type": "temporal"},
            "y": {"field": "value", "type": "quantitative", "title": null},
            "fill": {"field": "kind", "type": "nominal", "legend": null, "scale": {"domain": ["level", "MA", "EMA", "last"], "range": ["#ff9800", "#f23c3c", "#0d3d9c", "#6ba583"]}}
          }
        },
        {
          "data": {"name": "priceTags"},
          "transform": [{"filter": "isValid(datum.countdown)"}],
          "mark": {"type": "point", "shape": "M-1,-0.27L1,-0.27L1,0.27L-1,0.27Z", "size": 2401, "filled": true, "opacity": 1, "strokeWidth": 0, "fill": "#6ba583", "yOffset": 15.6},
          "encoding": {
            "x": {"datum": {"year":2020,"month":10,"date":10,"hours":19,"minutes":40,"utc":true}, "type": "temporal"},
            "y": {"field": "value", "type": "quantitative", "title": null}
          }
        },
        {
          "data": {"name": "priceTags"},
          "transform": [{"filter": "datum.kind == 'MA'"}],
          "mark": {"type": "point", "shape": "M-1,-0.578L1,-0.578L1,0.578L-1,0.578Z", "size": 529, "filled": true, "opacity": 1, "strokeWidth": 0, "fill": "#f23c3c"},
          "encoding": {
            "x": {"datum": {"year":2020,"month":10,"date":6,"hours":3,"utc":true}, "type": "temporal"},
            "y": {"field": "value", "type": "quantitative", "title": null}
          }
        },
        {
          "data": {"name": "priceTags"},
          "transform": [{"filter": "datum.kind == 'EMA'"}],
          "mark": {"type": "point", "shape": "M-1,-0.459L1,-0.459L1,0.459L-1,0.459Z", "size": 841, "filled": true, "opacity": 1, "strokeWidth": 0, "fill": "#0d3d9c"},
          "encoding": {
            "x": {"datum": {"year":2020,"month":10,"date":5,"hours":18,"minutes":14,"utc":true}, "type": "temporal"},
            "y": {"field": "value", "type": "quantitative", "title": null}
          }
        },
        {
          "data": {"name": "priceTags"},
          "transform": [{"filter": "datum.kind == 'last'"}],
          "mark": {"type": "point", "shape": "M-1,-0.277L1,-0.277L1,0.277L-1,0.277Z", "size": 2304, "filled": true, "opacity": 1, "strokeWidth": 0, "fill": "#6ba583"},
          "encoding": {
            "x": {"datum": {"year":2020,"month":10,"date":4,"hours":13,"utc":true}, "type": "temporal"},
            "y": {"field": "value", "type": "quantitative", "title": null}
          }
        },
        {
          "data": {"name": "priceTags"},
          "mark": {"type": "text", "fontSize": 11, "align": "center", "baseline": "middle"},
          "encoding": {
            "x": {"datum": {"year":2020,"month":10,"date":10,"hours":19,"minutes":40,"utc":true}, "type": "temporal"},
            "y": {"field": "value", "type": "quantitative", "title": null},
            "text": {"field": "text"},
            "color": {"condition": {"test": "datum.kind == 'level'", "value": "#1a1a1a"}, "value": "white"}
          }
        },
        {
          "data": {"name": "priceTags"},
          "transform": [{"filter": "isValid(datum.countdown)"}],
          "mark": {"type": "text", "fontSize": 11, "align": "center", "baseline": "middle", "color": "white", "yOffset": 15.6},
          "encoding": {
            "x": {"datum": {"year":2020,"month":10,"date":10,"hours":19,"minutes":40,"utc":true}, "type": "temporal"},
            "y": {"field": "value", "type": "quantitative", "title": null},
            "text": {"field": "countdown"}
          }
        },
        {
          "data": {"name": "priceTags"},
          "transform": [{"filter": "isValid(datum.name)"}],
          "mark": {"type": "text", "fontSize": 11, "align": "right", "baseline": "middle", "color": "white"},
          "encoding": {
            "x": {"datum": {"year":2020,"month":10,"date":7,"hours":3,"minutes":36,"utc":true}, "type": "temporal"},
            "y": {"field": "value", "type": "quantitative", "title": null},
            "text": {"field": "name"}
          }
        },
        {
          "data": {"values": [{"label": "USDT"}]},
          "mark": {"type": "point", "shape": "M-1,-0.467L1,-0.467L1,0.467L-1,0.467Z", "size": 900, "filled": true, "opacity": 1, "fill": "white", "stroke": "#d0d0d0", "strokeWidth": 1},
          "encoding": {
            "x": {"datum": {"year":2020,"month":10,"date":12,"hours":4,"utc":true}, "type": "temporal"},
            "y": {"datum": 69.68, "type": "quantitative"}
          }
        },
        {
          "data": {"values": [{"label": "USDT"}]},
          "mark": {"type": "text", "fontSize": 10, "align": "center", "baseline": "middle", "color": "#555555"},
          "encoding": {
            "x": {"datum": {"year":2020,"month":10,"date":12,"hours":4,"utc":true}, "type": "temporal"},
            "y": {"datum": 69.68, "type": "quantitative"},
            "text": {"field": "label"}
          }
        }
      ]
    },
    {
      "width": 1522,
      "height": 199,
      "title": {"text": "TradingView", "orient": "bottom", "anchor": "start", "frame": "bounds", "font": "Liberation Sans", "fontSize": 13, "fontWeight": "normal", "color": "#2a2e39", "offset": 14, "dx": 24},
      "layer": [
        {
          "data": {"values": [{}]},
          "mark": {"type": "rect", "color": "#f3e6fd"},
          "encoding": {"y": {"datum": 30, "type": "quantitative"}, "y2": {"datum": 70}}
        },
        {
          "data": {"values": [{"level": 70}, {"level": 30}]},
          "mark": {"type": "rule", "color": "#9e9e9e", "strokeWidth": 1, "strokeDash": [4, 4]},
          "encoding": {"y": {"field": "level", "type": "quantitative", "title": null}}
        },
        {
          "data": {"name": "rsi"},
          "mark": {"type": "line", "color": "#9c27b0", "strokeWidth": 1.2},
          "encoding": {
            "x": {
              "field": "date", "type": "temporal", "title": null,
              "scale": {"type": "utc", "domain": [{"year":2020,"month":4,"date":3,"hours":9,"minutes":33,"utc":true},{"year":2020,"month":10,"date":7,"hours":18,"minutes":30,"utc":true}]},
              "axis": {
                "orient": "bottom", "grid": true, "domain": true, "domainColor": "#6a6a6a", "ticks": true, "labelFlush": false, "labelOverlap": false, "tickCount": 100,
                "labelExpr": "utcdate(datum.value) == 1 ? utcFormat(datum.value, '%b') : utcFormat(datum.value, '%-d')",
                "values": [
                  {"year":2020,"month":4,"date":13,"utc":true},{"year":2020,"month":4,"date":22,"utc":true},{"year":2020,"month":5,"date":1,"utc":true},
                  {"year":2020,"month":5,"date":11,"utc":true},{"year":2020,"month":5,"date":20,"utc":true},{"year":2020,"month":6,"date":1,"utc":true},
                  {"year":2020,"month":6,"date":15,"utc":true},{"year":2020,"month":7,"date":1,"utc":true},{"year":2020,"month":7,"date":13,"utc":true},
                  {"year":2020,"month":7,"date":22,"utc":true},{"year":2020,"month":8,"date":1,"utc":true},{"year":2020,"month":8,"date":10,"utc":true},
                  {"year":2020,"month":8,"date":19,"utc":true},{"year":2020,"month":9,"date":1,"utc":true},{"year":2020,"month":9,"date":14,"utc":true},
                  {"year":2020,"month":10,"date":1,"utc":true}
                ]
              }
            },
            "y": {
              "field": "rsi", "type": "quantitative", "title": null,
              "scale": {"domain": [26.85, 85.6], "nice": false, "zero": false},
              "axis": {"orient": "right", "grid": true, "domain": true, "labelOverlap": false, "tickCount": 100, "values": [30, 40, 50, 60, 70, 80], "format": ".2f"}
            }
          }
        },
        {
          "data": {"name": "highlights"},
          "transform": [{"filter": "datum.id == 'r1'"}],
          "mark": {"type": "point", "shape": "M1,0C1,0.3866,0.5523,0.7,0,0.7C-0.5523,0.7,-1,0.3866,-1,0C-1,-0.3866,-0.5523,-0.7,0,-0.7C0.5523,-0.7,1,-0.3866,1,0Z", "size": 1600, "filled": true, "opacity": 1, "fill": "#ffa93a", "fillOpacity": 0.7, "stroke": "#d6a532", "strokeWidth": 1.2},
          "encoding": {"x": {"field": "date", "type": "temporal", "title": null}, "y": {"field": "value", "type": "quantitative", "title": null}}
        },
        {
          "data": {"name": "highlights"},
          "transform": [{"filter": "datum.id == 'r2'"}],
          "mark": {"type": "point", "shape": "circle", "size": 1050, "filled": true, "opacity": 1, "fill": "#ffa93a", "fillOpacity": 0.7, "stroke": "#d6a532", "strokeWidth": 1.2},
          "encoding": {"x": {"field": "date", "type": "temporal", "title": null}, "y": {"field": "value", "type": "quantitative", "title": null}}
        },
        {
          "data": {"name": "highlights"},
          "transform": [{"filter": "datum.id == 'r3'"}],
          "mark": {"type": "point", "shape": "circle", "size": 1650, "filled": true, "opacity": 1, "fill": "#ffa93a", "fillOpacity": 0.7, "stroke": "#d6a532", "strokeWidth": 1.2},
          "encoding": {"x": {"field": "date", "type": "temporal", "title": null}, "y": {"field": "value", "type": "quantitative", "title": null}}
        },
        {
          "data": {"values": [{"label": "RSI (14, close)"}]},
          "mark": {"type": "text", "align": "left", "baseline": "middle", "fontSize": 12, "color": "#555555"},
          "encoding": {
            "x": {"datum": {"year":2020,"month":4,"date":4,"hours":7,"utc":true}, "type": "temporal"},
            "y": {"datum": 80.5, "type": "quantitative"},
            "text": {"field": "label"}
          }
        },
        {
          "data": {"values": [{"name": "RSI", "value": 42.53, "text": "42.53"}]},
          "mark": {"type": "point", "shape": "M-1,-0.333L1,-0.333L1,0.333L-1,0.333Z", "size": 1600, "filled": true, "opacity": 1, "strokeWidth": 0, "fill": "#8f1e9f"},
          "encoding": {
            "x": {"datum": {"year":2020,"month":10,"date":10,"hours":8,"minutes":24,"utc":true}, "type": "temporal"},
            "y": {"field": "value", "type": "quantitative", "title": null}
          }
        },
        {
          "data": {"values": [{"name": "RSI", "value": 42.53, "text": "42.53"}]},
          "mark": {"type": "point", "shape": "M-1,-0.591L1,-0.591L1,0.591L-1,0.591Z", "size": 506, "filled": true, "opacity": 1, "strokeWidth": 0, "fill": "#8f1e9f"},
          "encoding": {
            "x": {"datum": {"year":2020,"month":10,"date":6,"hours":4,"utc":true}, "type": "temporal"},
            "y": {"field": "value", "type": "quantitative", "title": null}
          }
        },
        {
          "data": {"values": [{"name": "RSI", "value": 42.53, "text": "42.53"}]},
          "mark": {"type": "text", "fontSize": 11, "align": "center", "baseline": "middle", "color": "white"},
          "encoding": {
            "x": {"datum": {"year":2020,"month":10,"date":10,"hours":8,"minutes":24,"utc":true}, "type": "temporal"},
            "y": {"field": "value", "type": "quantitative", "title": null},
            "text": {"field": "text"}
          }
        },
        {
          "data": {"values": [{"name": "RSI", "value": 42.53, "text": "42.53"}]},
          "mark": {"type": "text", "fontSize": 11, "align": "center", "baseline": "middle", "color": "white"},
          "encoding": {
            "x": {"datum": {"year":2020,"month":10,"date":6,"hours":4,"utc":true}, "type": "temporal"},
            "y": {"field": "value", "type": "quantitative", "title": null},
            "text": {"field": "name"}
          }
        }
      ]
    }
  ],
  "config": {
    "view": {"stroke": "#cfcfcf"},
    "axis": {
      "labelFont": "Liberation Sans Narrow, DejaVu Sans Condensed, Liberation Sans, sans-serif",
      "labelFontSize": 11,
      "labelColor": "#555555",
      "gridColor": "#e8e8e8",
      "domainColor": "#b5b5b5",
      "tickColor": "#8a8a8a",
      "tickSize": 4,
      "labelPadding": 4,
      "labelOverlap": false
    },
    "text": {"font": "Liberation Sans Narrow, DejaVu Sans Condensed, Liberation Sans, sans-serif"}
  }
}
